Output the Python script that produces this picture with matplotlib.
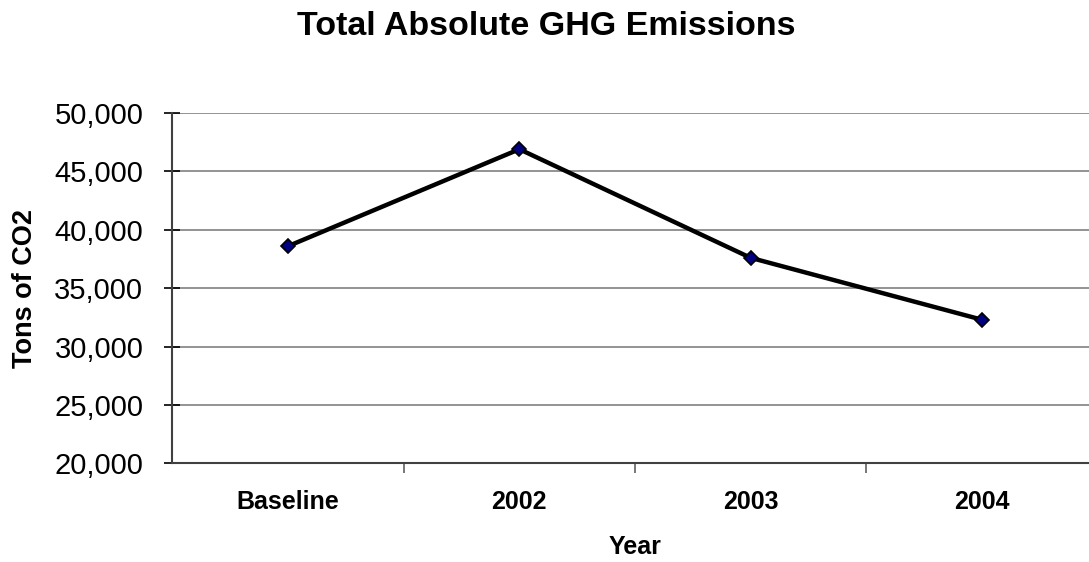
import matplotlib
matplotlib.use("Agg")
import matplotlib.pyplot as plt
from matplotlib.ticker import FixedLocator, StrMethodFormatter

# Emissions by year, tons of CO2
categories = ["Baseline", "2002", "2003", "2004"]
emissions = [38600, 46900, 37600, 32300]
y_ticks = [20000, 25000, 30000, 35000, 40000, 45000, 50000]

plt.rcParams["font.family"] = ["Liberation Sans", "DejaVu Sans"]


def main():
    fig = plt.figure(figsize=(10.89, 5.62), dpi=100)
    ax = fig.add_axes([0.1584, 0.1756, 0.8494, 0.6233])

    x = list(range(len(categories)))
    ax.plot(x, emissions, color="black", linewidth=3.2, marker="D",
            markersize=7.5, markerfacecolor="#000080",
            markeredgecolor="black", markeredgewidth=1.2, zorder=3,
            clip_on=False)

    ax.set_xlim(-0.5, len(categories) - 0.5)
    ax.set_ylim(y_ticks[0], y_ticks[-1])

    # y axis: horizontal gridlines, comma thousands
    ax.set_yticks(y_ticks)
    ax.yaxis.set_major_formatter(StrMethodFormatter("{x:,.0f}"))
    ax.grid(axis="y", color="#808080", linewidth=1.2)
    ax.tick_params(axis="y", direction="inout", length=12, width=1.2,
                   labelsize=21, pad=15, colors="black")

    # x axis: category labels centred, tick marks between categories
    ax.set_xticks(x)
    ax.set_xticklabels(categories, fontsize=18, fontweight="bold")
    ax.tick_params(axis="x", which="major", length=0, pad=19)
    ax.xaxis.set_minor_locator(FixedLocator([i + 0.5 for i in x[:-1]]))
    ax.tick_params(axis="x", which="minor", direction="out", length=7,
                   width=1.2, color="#606060")

    for side in ("top", "right"):
        ax.spines[side].set_visible(False)
    for side in ("left", "bottom"):
        ax.spines[side].set_color("#404040")
        ax.spines[side].set_linewidth(1.5)
    ax.set_axisbelow(True)

    ax.set_xlabel("Year", fontsize=18, fontweight="bold", labelpad=15)
    ax.set_ylabel("Tons of CO2", fontsize=19.5, fontweight="bold",
                  labelpad=12)

    fig.text(0.502, 0.952, "Total Absolute GHG Emissions", fontsize=24.5,
             fontweight="bold", ha="center", va="center")

    fig.savefig("out.png", dpi=100, facecolor="white")


if __name__ == "__main__":
    main()
